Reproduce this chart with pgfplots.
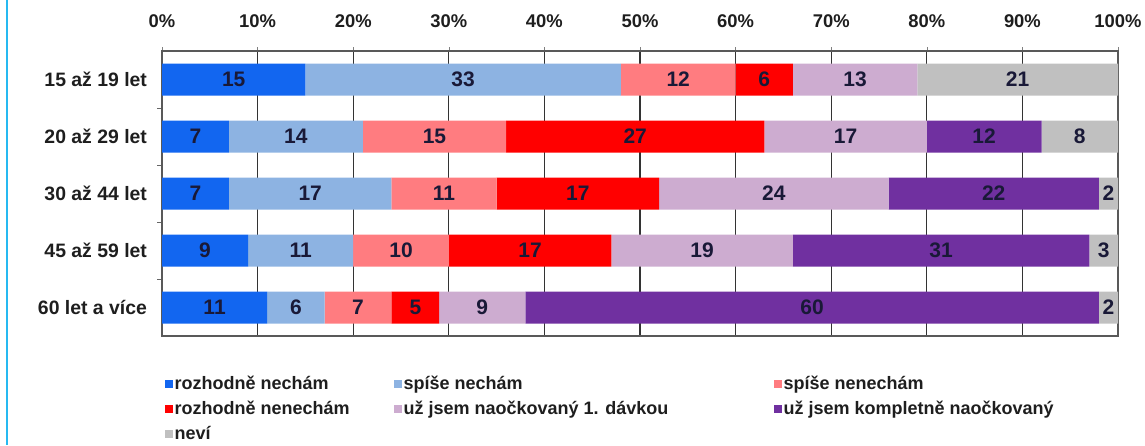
\documentclass[border=0pt]{standalone}
\usepackage{pgfplots}
\pgfplotsset{compat=1.18}
\usepackage{fontspec}
\setmainfont{Liberation Sans}
\definecolor{cA}{RGB}{18,102,240}
\definecolor{cB}{RGB}{141,179,226}
\definecolor{cC}{RGB}{255,124,128}
\definecolor{cD}{RGB}{255,0,0}
\definecolor{cE}{RGB}{205,172,208}
\definecolor{cF}{RGB}{112,48,160}
\definecolor{cG}{RGB}{192,192,192}
\definecolor{labcol}{RGB}{25,25,55}
\definecolor{txt}{RGB}{30,30,30}
\begin{document}
\begin{tikzpicture}
\begin{axis}[
  at={(81pt,54.5pt)}, anchor=south west,
  scale only axis, width=478pt, height=142.5pt,
  xbar stacked, bar width=16pt,
  xmin=0, xmax=100, ymin=-0.5, ymax=4.5, y dir=reverse,
  xtick={0,10,...,100},
  xticklabels={0\%,10\%,20\%,30\%,40\%,50\%,60\%,70\%,80\%,90\%,100\%},
  xticklabel pos=top, xtick pos=top,
  tick align=outside,
  major tick length=2pt, minor tick length=2.5pt,
  xmajorgrids, grid style={black!80, line width=0.6pt},
  ytick={0,1,2,3,4},
  yticklabels={15 až 19 let,20 až 29 let,30 až 44 let,45 až 59 let,60 let a více},
  minor ytick={0.5,1.5,2.5,3.5},
  ytick pos=left,
  every major y tick/.append style={draw=none},
  every minor y tick/.append style={draw=black!60},
  axis line style={draw=black!65, line width=0.6pt},
  xticklabel style={font=\bfseries\fontsize{9.2}{11}\selectfont, text=txt},
  yticklabel style={font=\bfseries\fontsize{9.7}{11}\selectfont, text=txt, xshift=-2pt},
  xticklabel shift=6pt,
  /pgf/number format/assume math mode=true,
  visualization depends on={rawx \as \rawx},
  nodes near coords={\ifdim\rawx pt>0.5pt\relax\pgfmathprintnumber[fixed,precision=0]{\rawx}\fi},
  every node near coord/.style={anchor=center, font=\bfseries\fontsize{10.5}{12}\selectfont, text=labcol},
  legend columns=3,
  legend cell align=left,
  legend style={at={(-0.004,-0.115)}, anchor=north west, draw=none, fill=none,
    font=\bfseries\fontsize{9}{11}\selectfont, text=txt,
    row sep=1.5pt, column sep=0pt,
    nodes={inner sep=1pt, text height=7pt, text depth=2pt}},
  legend image code/.code={\fill[#1,draw=none] (0pt,-2pt) rectangle (4pt,2pt);},
]
\addplot[fill=cA, draw=none] coordinates {(15,0) (7,1) (7,2) (9,3) (11,4)};
\addlegendentry{\makebox[108.5pt][l]{rozhodně nechám}}
\addplot[fill=cB, draw=none] coordinates {(33,0) (14,1) (17,2) (11,3) (6,4)};
\addlegendentry{\makebox[184pt][l]{spíše nechám}}
\addplot[fill=cC, draw=none] coordinates {(12,0) (15,1) (11,2) (10,3) (7,4)};
\addlegendentry{spíše nenechám}
\addplot[fill=cD, draw=none] coordinates {(6,0) (27,1) (17,2) (17,3) (5,4)};
\addlegendentry{\makebox[108.5pt][l]{rozhodně nenechám}}
\addplot[fill=cE, draw=none] coordinates {(13,0) (17,1) (24,2) (19,3) (9,4)};
\addlegendentry{\makebox[184pt][l]{už jsem naočkovaný 1. dávkou}}
\addplot[fill=cF, draw=none] coordinates {(0,0) (12,1) (22,2) (31,3) (60,4)};
\addlegendentry{už jsem kompletně naočkovaný}
\addplot[fill=cG, draw=none] coordinates {(21,0) (8,1) (2,2) (3,3) (2,4)};
\addlegendentry{\makebox[108.5pt][l]{neví}}
\end{axis}
\draw[cyan!85!white, line width=0.7pt] (3.5pt,0) -- (3.5pt,222.5pt);
\pgfresetboundingbox
\path (0,0) rectangle (572.5pt,222.5pt);
\end{tikzpicture}
\end{document}
